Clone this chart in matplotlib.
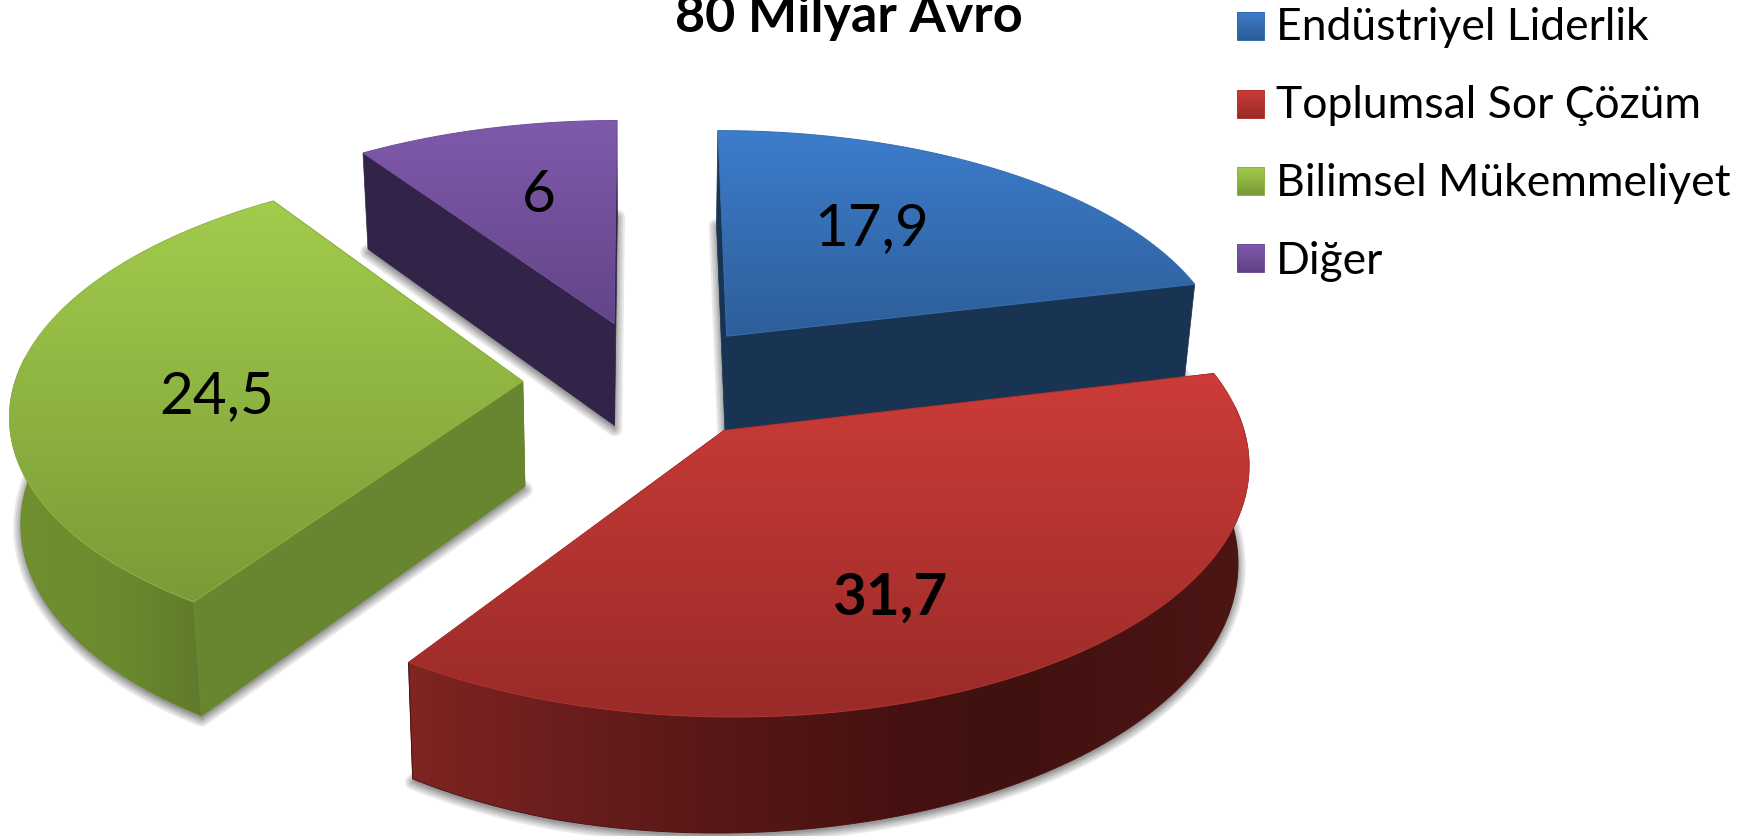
import numpy as np
import matplotlib
matplotlib.use('Agg')
import matplotlib.pyplot as plt
from matplotlib.patches import Polygon

# ---------- data ----------
title = "80 Milyar Avro"
categories = ["Endüstriyel Liderlik", "Toplumsal Sor Çözüm", "Bilimsel Mükemmeliyet", "Diğer"]
values = [17.9, 31.7, 24.5, 6]
value_labels = ["17,9", "31,7", "24,5", "6"]
# angular sweep of each slice as it is drawn in the picture (degrees)
sweeps = [76.72, 137.47, 111.55, 34.26]

# ---------- view and style ----------
W, H = 1765, 836
START = -0.30
EXPLODE = [0.2436, 0.2441, 0.2543, 0.2584]
CX, CY, RX, RY, PERSP_V, SHEAR_X, SHEAR_Y, PERSP_U = (651.93, 381.09, 507.5, 239.93,
                                                     0.1186, -1.44, 0.56, 0.0002)
TOP_GRAD = [("#3C7DCC", "#2E5E9A"), ("#CC3C38", "#9A2B28"), ("#A2CC4C", "#7A9B37"), ("#7F5AAC", "#624587")]
CUT_WALL = ["#193353", "#5A1815", "#68852F", "#322348"]
OUTER_STOPS = [None,
               [(406, "#7F2522"), (533, "#6F1F1F"), (700, "#591817"), (880, "#471211"),
                (1000, "#401110"), (1240, "#4C1614")],
               [(9, "#71912F"), (120, "#6A8A2E"), (200, "#5F7A2B")],
               None]
LEG_GRAD = [("#3C7DCC", "#2C5A96"), ("#CC3C38", "#9A2A27"), ("#A2CC4C", "#789934"), ("#7F5AAC", "#5F4285")]
LABEL_XY = [(872, 245), (890, 615), (217, 413), (539, 212)]
FONT = "Lato"
LABEL_SIZE = 42
LEGEND_SIZE = 32
TITLE_SIZE = 37.5
LEG_TOP = [12, 90, 167, 244]
LEG_BASE = [40.5, 118, 196, 273.5]


def project(u, v):
    w = 1 - PERSP_V * v - PERSP_U * u
    return CX + (RX * u + SHEAR_X * v) / w, CY + (RY * v + SHEAR_Y * u) / w


def drop(x, y):
    """Lower rim of the pie for a point of its upper face."""
    dx = 0.018 * (640 - x)
    dy = 90 + 0.04 * y - 0.015 * np.maximum(0, x - 550)
    return x + dx, y + dy


def rgb(c):
    return np.array(matplotlib.colors.to_rgb(c))


fig = plt.figure(figsize=(W / 100, H / 100), dpi=100)
ax = fig.add_axes([0, 0, 1, 1])
ax.set_xlim(0, W)
ax.set_ylim(H, 0)
ax.axis("off")


def paint(xy, img, extent, edge, z):
    patch = Polygon(xy, closed=True, transform=ax.transData, fc="none", ec="none")
    ax.add_patch(patch)
    im = ax.imshow(img, extent=extent, aspect="auto", interpolation="bilinear", zorder=z)
    im.set_clip_path(patch)
    ax.add_patch(Polygon(xy, closed=True, fc="none", ec=edge, lw=0.7, zorder=z))


def vgrad(xy, c0, c1, z):
    x0, x1 = xy[:, 0].min(), xy[:, 0].max()
    y0, y1 = xy[:, 1].min(), xy[:, 1].max()
    img = np.linspace(rgb(c0), rgb(c1), 128)[:, None, :]
    paint(xy, img, (x0, x1, y1, y0), matplotlib.colors.to_hex((rgb(c0) + rgb(c1)) / 2), z)


def hgrad(xy, stops, z):
    xs = np.linspace(xy[:, 0].min(), xy[:, 0].max(), 256)
    pos = [s[0] for s in stops]
    cols = np.array([rgb(s[1]) for s in stops])
    img = np.stack([np.interp(xs, pos, cols[:, k]) for k in range(3)], axis=-1)[None, :, :]
    paint(xy, img, (xs[0], xs[-1], xy[:, 1].max(), xy[:, 1].min()), matplotlib.colors.to_hex(img[0, 128]), z)


# slices are stacked back to front
starts = START + np.r_[0, np.cumsum(sweeps)[:-1]]
for order, i in enumerate([3, 0, 2, 1]):
    z = 2 + order * 10
    t = np.radians(np.linspace(starts[i], starts[i] + sweeps[i], 240))
    mid = np.radians(starts[i] + sweeps[i] / 2)
    ou, ov = EXPLODE[i] * np.sin(mid), -EXPLODE[i] * np.cos(mid)
    xa, ya = project(ou, ov)
    X, Y = project(ou + np.sin(t), ov - np.cos(t))
    bxa, bya = drop(xa, ya)
    BX, BY = drop(X, Y)

    # soft shadow of the base
    base = np.column_stack([np.r_[bxa, BX], np.r_[bya, BY] + 3])
    for lw in (11, 8, 5, 2.5):
        ax.add_patch(Polygon(base, closed=True, fc="none", ec=(0, 0, 0, 0.09), lw=lw,
                             joinstyle="round", zorder=z))
    ax.add_patch(Polygon(base, closed=True, fc=(0.6, 0.6, 0.6), ec="none", zorder=z))

    # cut walls
    for k in (0, -1):
        wall = np.array([[xa, ya], [X[k], Y[k]], [BX[k], BY[k]], [bxa, bya]])
        ax.add_patch(Polygon(wall, closed=True, fc=CUT_WALL[i], ec=CUT_WALL[i], lw=0.5, zorder=z + 1))

    # outer wall (only where it faces the viewer)
    if OUTER_STOPS[i] is not None:
        vis = (-np.cos(t)) >= -0.1
        oxy = np.column_stack([np.r_[X[vis], BX[vis][::-1]], np.r_[Y[vis], BY[vis][::-1]]])
        hgrad(oxy, OUTER_STOPS[i], z + 2)

    # upper face
    top = np.column_stack([np.r_[xa, X], np.r_[ya, Y]])
    vgrad(top, TOP_GRAD[i][0], TOP_GRAD[i][1], z + 3)

    ax.text(*LABEL_XY[i], value_labels[i], ha="center", va="baseline", family=FONT,
            fontsize=LABEL_SIZE, fontweight="bold" if i == 1 else "normal", color="black", zorder=60)

# legend
for k, name in enumerate(categories):
    y0 = LEG_TOP[k]
    xy = np.array([[1237, y0], [1264, y0], [1264, y0 + 28], [1237, y0 + 28]], float)
    vgrad(xy, LEG_GRAD[k][0], LEG_GRAD[k][1], 70)
    ax.text(1276, LEG_BASE[k], name, ha="left", va="baseline", family=FONT, fontsize=LEGEND_SIZE,
            color="black", zorder=70)

ax.text(849, 32, title, ha="center", va="baseline", family=FONT, fontsize=TITLE_SIZE, fontweight="bold",
        color="black", zorder=70)

ax.set_xlim(0, W)
ax.set_ylim(H, 0)
fig.savefig("out.png", dpi=100, facecolor="white")
